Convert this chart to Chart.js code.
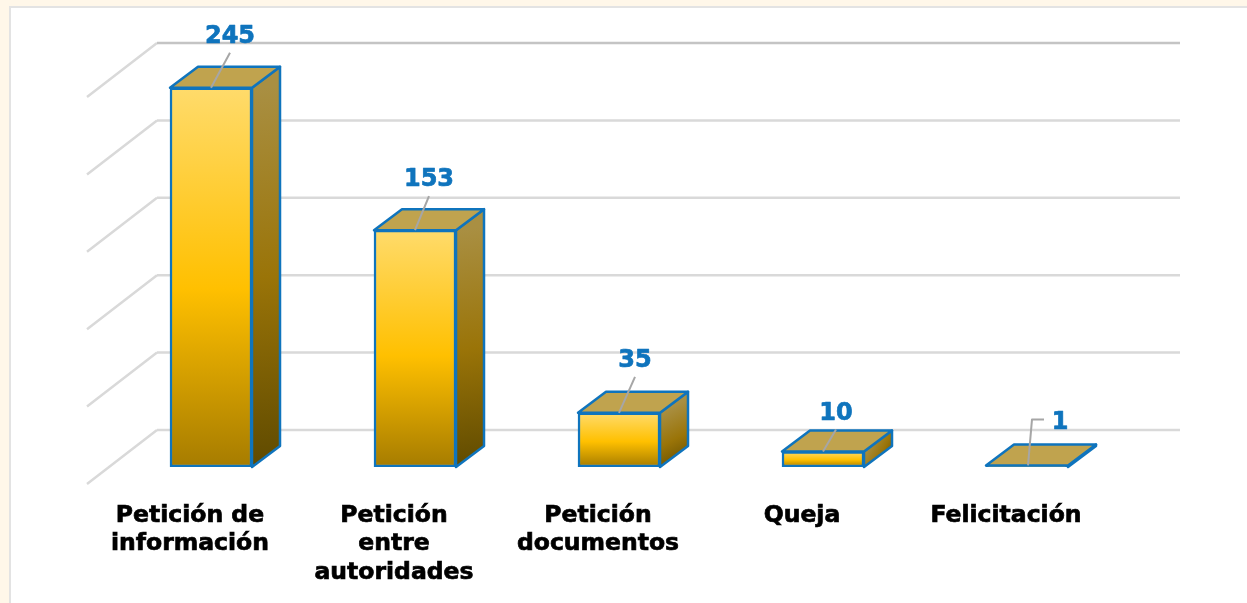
<!DOCTYPE html>
<html lang="es">
<head>
<meta charset="utf-8">
<title>Peticiones por tipo</title>
<script src="https://cdn.jsdelivr.net/npm/chart.js@4"></script>
<style>
    html, body { margin: 0; padding: 0; width: 1247px; height: 603px; overflow: hidden; background: #fff7e9; }
    #frame { position: absolute; left: 9px; top: 6px; width: 1260px; height: 620px; background: #fff; border: 2px solid #e3e3e3; }
    #wrap { position: absolute; left: 0; top: 0; width: 1247px; height: 603px; }
</style>
</head>
<body>
<div id="frame"></div>
<div id="wrap"><canvas id="chart" width="1247" height="603"></canvas></div>
<script>
// Datos
const categories = [
    ['Petición de', 'información'],
    ['Petición', 'entre', 'autoridades'],
    ['Petición', 'documentos'],
    'Queja',
    'Felicitación'
];
const values = [245, 153, 35, 10, 1];
const axisTicks = [0, 50, 100, 150, 200, 250];

// Profundidad de las barras y del plano del fondo (px)
const BAR_DX = 28;
const BAR_DY = 21;
const WALL_BACK_DY = 37;
const WALL_FRONT_DY = 17;
const WALL_LEFT = 87;
const WALL_CORNER = 157;
const WALL_RIGHT = 1180;

const BLUE = '#0f74bd';
const GRID = '#d9d9d9';

// Etiqueta respecto a la esquina superior central de cada barra
const LABEL_OFFSET = [[19, -53], [14, -52], [16, -54], [13, -40], [33, -45]];

const frontGradient = (ctx, top, bottom) => {
    const g = ctx.createLinearGradient(0, top, 0, bottom);
    g.addColorStop(0, '#ffdb6b');
    g.addColorStop(0.53, '#ffc000');
    g.addColorStop(1, '#a67c00');
    return g;
};

// Paredes con la cuadrícula, detrás de las barras
const wallPlugin = {
    id: 'wall',
    beforeDatasetsDraw(chart) {
        const { ctx, scales: { y } } = chart;
        ctx.save();
        ctx.lineWidth = 2.5;
        axisTicks.forEach(tick => {
            const py = y.getPixelForValue(tick);
            ctx.strokeStyle = GRID;
            ctx.beginPath();
            ctx.moveTo(WALL_LEFT, py + WALL_FRONT_DY);
            ctx.lineTo(WALL_CORNER, py - WALL_BACK_DY);
            ctx.stroke();
            // la línea superior se ve más oscura
            ctx.strokeStyle = tick === 250 ? '#c4c4c4' : GRID;
            ctx.beginPath();
            ctx.moveTo(WALL_CORNER, py - WALL_BACK_DY);
            ctx.lineTo(WALL_RIGHT, py - WALL_BACK_DY);
            ctx.stroke();
        });
        ctx.restore();
    }
};

// Caras superior y lateral, líneas guía y etiquetas
const boxPlugin = {
    id: 'box',
    afterDatasetsDraw(chart) {
        const { ctx } = chart;
        const bars = chart.getDatasetMeta(0).data;
        ctx.save();
        ctx.lineJoin = 'round';
        ctx.strokeStyle = BLUE;
        ctx.lineWidth = 2.5;
        bars.forEach(bar => {
            const left = bar.x - bar.width / 2;
            const right = bar.x + bar.width / 2;

            const side = ctx.createLinearGradient(right, bar.y, right + BAR_DX, bar.base);
            side.addColorStop(0, '#a98f42');
            side.addColorStop(0.5, '#9a7408');
            side.addColorStop(1, '#5f4a00');
            ctx.fillStyle = side;
            ctx.beginPath();
            ctx.moveTo(right, bar.y);
            ctx.lineTo(right + BAR_DX, bar.y - BAR_DY);
            ctx.lineTo(right + BAR_DX, bar.base - BAR_DY);
            ctx.lineTo(right, bar.base);
            ctx.closePath();
            ctx.fill();
            ctx.stroke();

            ctx.fillStyle = '#c0a34e';
            ctx.beginPath();
            ctx.moveTo(left, bar.y);
            ctx.lineTo(left + BAR_DX, bar.y - BAR_DY);
            ctx.lineTo(right + BAR_DX, bar.y - BAR_DY);
            ctx.lineTo(right, bar.y);
            ctx.closePath();
            ctx.fill();
            ctx.stroke();
        });

        ctx.font = 'bold 24px "DejaVu Sans"';
        ctx.textAlign = 'center';
        ctx.textBaseline = 'middle';
        bars.forEach((bar, i) => {
            const [dx, dy] = LABEL_OFFSET[i];
            const lx = bar.x + dx;
            const ly = bar.y + dy;
            ctx.strokeStyle = '#a6a6a6';
            ctx.lineWidth = 2;
            ctx.beginPath();
            if (values[i] < 5) {
                // la etiqueta pequeña lleva la guía quebrada
                ctx.moveTo(bar.x + 1, bar.y);
                ctx.lineTo(bar.x + 5, ly - 1);
                ctx.lineTo(lx - 16, ly - 1);
            } else {
                ctx.moveTo(bar.x, bar.y);
                ctx.lineTo(lx, ly + 18);
            }
            ctx.stroke();
            ctx.fillStyle = BLUE;
            ctx.strokeStyle = BLUE;
            ctx.lineWidth = 0.7;
            ctx.fillText(String(values[i]), lx, ly + 2);
            ctx.strokeText(String(values[i]), lx, ly + 2);
        });
        ctx.restore();
    }
};

new Chart(document.getElementById('chart').getContext('2d'), {
    type: 'bar',
    data: {
        labels: categories,
        datasets: [{
            data: values,
            barThickness: 82,
            borderWidth: 2.5,
            borderSkipped: false,
            borderColor: BLUE,
            backgroundColor: (c) => {
                const y = c.chart.scales.y;
                if (!y || c.raw === undefined) return '#ffc000';
                const top = y.getPixelForValue(c.raw);
                const bottom = y.getPixelForValue(0);
                if (!Number.isFinite(top) || !Number.isFinite(bottom)) return '#ffc000';
                return frontGradient(c.chart.ctx, top, bottom);
            }
        }]
    },
    options: {
        responsive: false,
        animation: false,
        events: [],
        layout: { padding: { left: 109, right: 118, top: 80, bottom: 0 } },
        plugins: { legend: { display: false }, tooltip: { enabled: false } },
        scales: {
            y: {
                display: false,
                min: 0,
                max: 250,
                ticks: { stepSize: 50 }
            },
            x: {
                afterFit: (scale) => { scale.height = 136; },
                border: { display: false },
                grid: { display: false, drawTicks: false },
                ticks: {
                    autoSkip: false,
                    maxRotation: 0,
                    labelOffset: -21,
                    padding: 34,
                    color: '#000',
                    textStrokeColor: '#000',
                    textStrokeWidth: 0.7,
                    font: { family: '"DejaVu Sans"', size: 23.5, weight: 'bold', lineHeight: 1.23 }
                }
            }
        }
    },
    plugins: [wallPlugin, boxPlugin]
});
</script>
</body>
</html>
